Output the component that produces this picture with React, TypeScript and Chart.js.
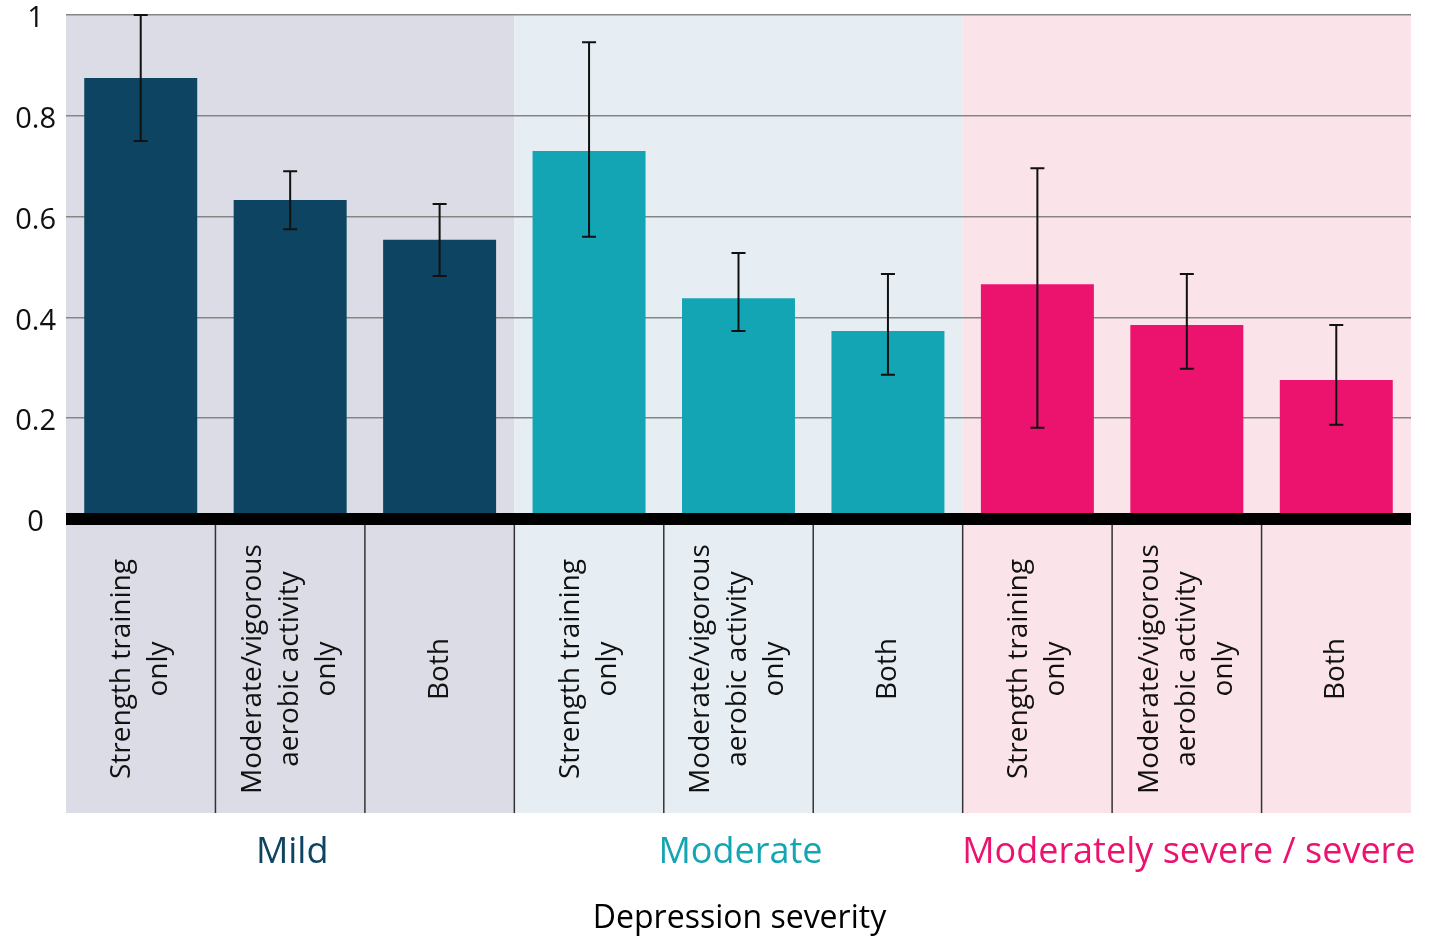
import React, { useEffect, useRef } from "react";
import { Chart, registerables } from "chart.js";

Chart.register(...registerables);

// ---- data ----
const activityLabels: string[][] = [
  ["Strength training", "only"],
  ["Moderate/vigorous", "aerobic activity", "only"],
  ["Both"],
];
const groups = ["Mild", "Moderate", "Moderately severe / severe"];
const groupColors = ["#0d4461", "#14a5b4", "#ec136f"];
const bandColors = ["#dcdce6", "#e6eef4", "#fae4ea"];
const values = [0.875, 0.633, 0.554, 0.73, 0.438, 0.373, 0.466, 0.385, 0.276];
const errLow = [0.75, 0.575, 0.482, 0.56, 0.373, 0.286, 0.181, 0.298, 0.187];
const errHigh = [1.0, 0.69, 0.625, 0.946, 0.528, 0.486, 0.696, 0.486, 0.385];
const yTickValues = [0, 0.2, 0.4, 0.6, 0.8, 1];
const yTickLabels = ["0", "0.2", "0.4", "0.6", "0.8", "1"];
const axisTitle = "Depression severity";

const FONT = "'Open Sans', 'Noto Sans', sans-serif";

const categories: string[][] = [];
groups.forEach(() => activityLabels.forEach((l) => categories.push(l)));
const barColors = values.map((_, i) => groupColors[Math.floor(i / activityLabels.length)]);

const decorPlugin = {
  id: "decor",
  beforeDraw(chart: any) {
    const { ctx, chartArea, scales } = chart;
    const x = scales.x;
    const n = categories.length;
    const step = (chartArea.right - chartArea.left) / n;
    const labelBottom = chartArea.bottom + 294;
    ctx.save();
    groups.forEach((_, g) => {
      const first = g * activityLabels.length;
      const last = first + activityLabels.length - 1;
      const x0 = x.getPixelForValue(first) - step / 2;
      const x1 = x.getPixelForValue(last) + step / 2;
      ctx.fillStyle = bandColors[g];
      ctx.fillRect(x0, chartArea.top, x1 - x0, labelBottom - chartArea.top);
    });
    ctx.restore();
  },
  afterDatasetsDraw(chart: any) {
    const { ctx, chartArea, scales } = chart;
    const x = scales.x;
    const y = scales.y;
    const n = categories.length;
    const step = (chartArea.right - chartArea.left) / n;
    const zero = y.getPixelForValue(0);
    const labelTop = zero + 6;
    const labelBottom = chartArea.bottom + 294;
    ctx.save();
    // error bars
    ctx.strokeStyle = "#111";
    ctx.lineWidth = 2;
    for (let i = 0; i < n; i++) {
      const cx = x.getPixelForValue(i);
      const yl = y.getPixelForValue(errLow[i]);
      const yh = y.getPixelForValue(errHigh[i]);
      ctx.beginPath();
      ctx.moveTo(cx, yl);
      ctx.lineTo(cx, yh);
      ctx.moveTo(cx - 7, yl);
      ctx.lineTo(cx + 7, yl);
      ctx.moveTo(cx - 7, yh);
      ctx.lineTo(cx + 7, yh);
      ctx.stroke();
    }
    // zero line
    ctx.fillStyle = "#000";
    ctx.fillRect(chartArea.left, zero - 6, chartArea.right - chartArea.left, 12);
    // separators
    ctx.strokeStyle = "#333";
    ctx.lineWidth = 1.5;
    for (let i = 1; i < n; i++) {
      const bx = x.getPixelForValue(i) - step / 2;
      ctx.beginPath();
      ctx.moveTo(bx, labelTop);
      ctx.lineTo(bx, labelBottom);
      ctx.stroke();
    }
    // category labels (rotated)
    ctx.fillStyle = "#111";
    ctx.font = `28px ${FONT}`;
    ctx.textAlign = "center";
    ctx.textBaseline = "middle";
    const cy = (labelTop + labelBottom) / 2;
    const lh = 37;
    for (let i = 0; i < n; i++) {
      const lines = categories[i];
      const cx = x.getPixelForValue(i);
      lines.forEach((line, j) => {
        const off = (j - (lines.length - 1) / 2) * lh;
        ctx.save();
        ctx.translate(cx + off, cy);
        ctx.rotate(-Math.PI / 2);
        ctx.fillText(line, 0, 0);
        ctx.restore();
      });
    }
    // group labels
    ctx.font = `36px ${FONT}`;
    groups.forEach((gName, g) => {
      const first = g * activityLabels.length;
      const last = first + activityLabels.length - 1;
      const gx = (x.getPixelForValue(first) + x.getPixelForValue(last)) / 2;
      ctx.fillStyle = groupColors[g];
      ctx.fillText(gName, gx + 2, labelBottom + 40);
    });
    // axis title
    ctx.fillStyle = "#000";
    ctx.font = `32px ${FONT}`;
    ctx.fillText(axisTitle, (chartArea.left + chartArea.right) / 2 + 1, labelBottom + 106);
    ctx.restore();
  },
};

export default function App() {
  const ref = useRef<HTMLCanvasElement | null>(null);
  useEffect(() => {
    if (!ref.current) return;
    const chart = new Chart(ref.current, {
      type: "bar",
      data: {
        labels: categories.map((c) => c.join(" ")),
        datasets: [
          {
            data: values,
            backgroundColor: barColors,
            borderWidth: 0,
            barPercentage: 0.756,
            categoryPercentage: 1,
          },
        ],
      },
      options: {
        animation: false,
        responsive: false,
        devicePixelRatio: 1,
        layout: { padding: { top: 15, right: 23, bottom: 417, left: 0 } },
        plugins: { legend: { display: false }, tooltip: { enabled: false } },
        scales: {
          x: { display: false },
          y: {
            min: 0,
            max: 1,
            afterFit: (s: any) => {
              s.width = 66;
              s.paddingTop = 0;
              s.paddingBottom = 0;
            },
            afterBuildTicks: (s: any) => {
              s.ticks = yTickValues.map((v) => ({ value: v }));
            },
            border: { display: false },
            grid: { color: "#858585", lineWidth: 1.5, drawTicks: false },
            ticks: {
              padding: 10,
              crossAlign: "center",
              labelOffset: 4,
              color: "#111",
              font: { family: FONT, size: 29 },
              callback: (v: any) => {
                const idx = yTickValues.indexOf(Number(v));
                return idx >= 0 ? yTickLabels[idx] : "";
              },
            },
          },
        },
      },
      plugins: [decorPlugin],
    });
    return () => chart.destroy();
  }, []);
  return (
    <div style={{ position: "absolute", left: 0, top: 0, width: 1434, height: 936 }}>
      <canvas ref={ref} width={1434} height={936} />
    </div>
  );
}
